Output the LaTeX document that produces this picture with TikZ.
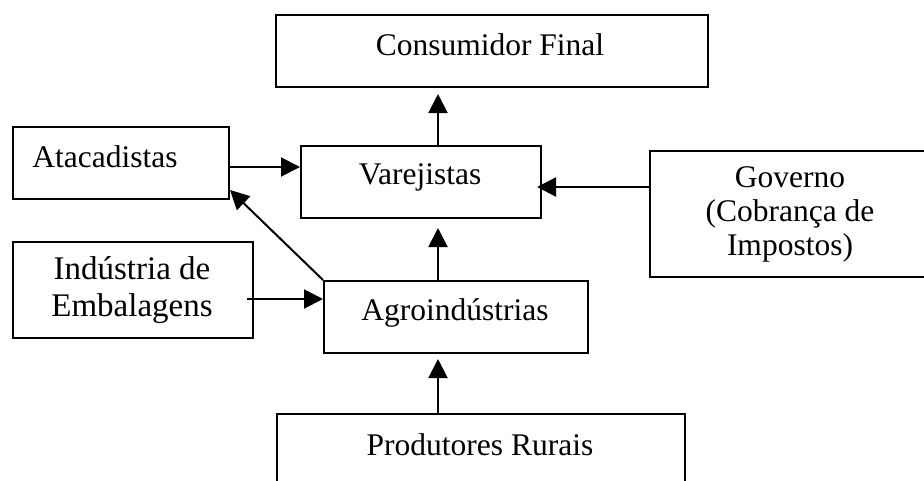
\documentclass[tikz,border=0pt]{standalone}
\usepackage{fontspec}
\setmainfont{Liberation Serif}
\usetikzlibrary{arrows.meta}
\begin{document}
\begin{tikzpicture}[x=1pt,y=-1pt,
  box/.style={draw, line width=2pt, inner sep=0pt, anchor=north west},
  lbl/.style={inner sep=0pt, anchor=base, font=\fontsize{31.5}{34}\selectfont},
  mlbl/.style={inner sep=0pt, anchor=center, align=center, font=\fontsize{31.5}{34}\selectfont},
  arr/.style={line width=2pt, -{Triangle[length=19pt,width=19pt]}}]
\useasboundingbox (0,0) rectangle (924,480);
\clip (0,0) rectangle (924,480);
% boxes
\node[box, minimum width=432pt, minimum height=72pt] (con) at (275,14) {};
\node[box, minimum width=216pt, minimum height=72pt] (ata) at (12,126) {};
\node[box, minimum width=240pt, minimum height=72pt] (var) at (300,145) {};
\node[box, minimum width=282pt, minimum height=126pt] (gov) at (649,150) {};
\node[box, minimum width=240pt, minimum height=96pt] (ind) at (12,241) {};
\node[box, minimum width=264pt, minimum height=72pt] (agr) at (323,280) {};
\node[box, minimum width=408pt, minimum height=90pt] (pro) at (276,413) {};
% labels
\node[lbl] (tcon) at (490,55) {Consumidor Final};
\node[lbl] (tata) at (105,167) {Atacadistas};
\node[lbl] (tvar) at (420,184) {Varejistas};
\node[mlbl] (tgov) at (790,214) {Governo\\(Cobrança de\\Impostos)};
\node[mlbl, font=\fontsize{33}{37}\selectfont] (tind) at (132,290) {Indústria de\\Embalagens};
\node[lbl] (tagr) at (455,320) {Agroindústrias};
\node[lbl] (tpro) at (480,455) {Produtores Rurais};
% connectors
\coordinate (spine) at (438,0);
\coordinate (ayl) at (0,167);
\coordinate (iyl) at (0,299);
\coordinate (gyl) at (0,187);
\draw[arr, shorten >=6pt] (var.north -| spine) -- (con.south -| spine);
\draw[arr, shorten >=9pt] (agr.north -| spine) -- (var.south -| spine);
\draw[arr, shorten >=5pt] (pro.north -| spine) -- (agr.south -| spine);
\draw[arr] (ata.east |- ayl) -- (var.west |- ayl);
\draw[arr] ([xshift=-7pt]ind.east |- iyl) -- (agr.west |- iyl);
\draw[arr, shorten >=-5pt] (gov.west |- gyl) -- (var.east |- gyl);
\draw[arr] (agr.north west) -- ([yshift=10pt]ata.south east);
\end{tikzpicture}
\end{document}
